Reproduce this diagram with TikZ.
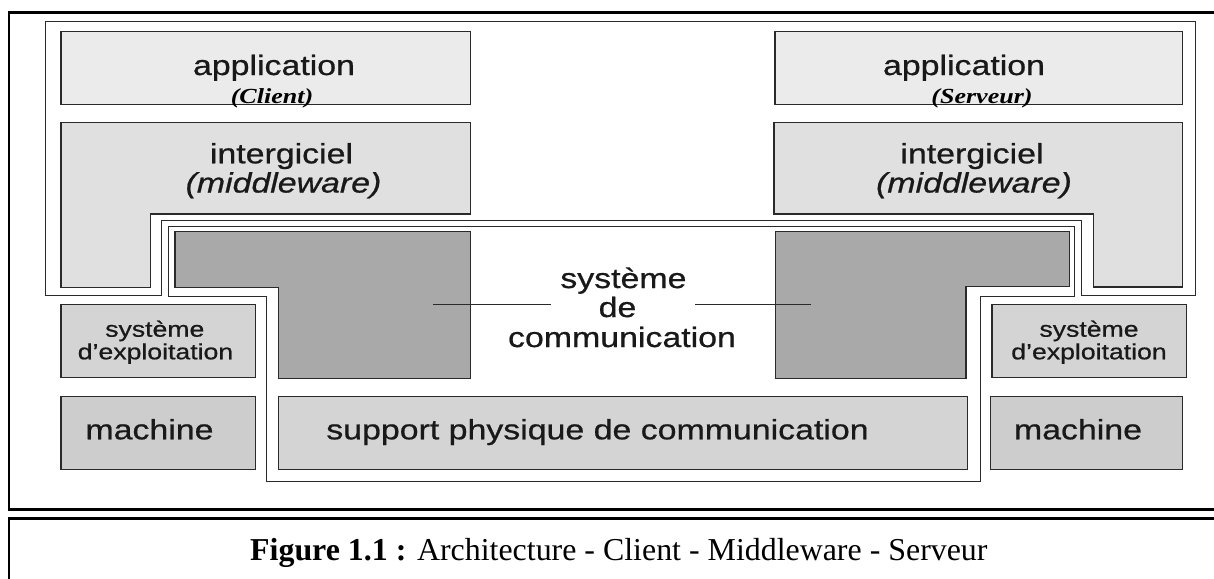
\documentclass[tikz,border=0pt]{standalone}
\usepackage{fontspec}
\setmainfont{Liberation Serif}
\newfontfamily\diagsans{Liberation Sans}[FakeStretch=1.21,FakeBold=0.7]
\newfontfamily\diagserif{Liberation Serif}[FakeStretch=1.21]
\definecolor{appfill}{HTML}{EBEBEB}
\definecolor{mwfill}{HTML}{E0E0E0}
\definecolor{commfill}{HTML}{A9A9A9}
\definecolor{osfill}{HTML}{D4D4D4}
\definecolor{machfill}{HTML}{CDCDCD}
\definecolor{supfill}{HTML}{D4D4D4}
\definecolor{edge}{HTML}{2A2A2A}
\begin{document}
\begin{tikzpicture}[x=1pt,y=-1pt,
  frame/.style={line width=2.6pt,draw=black},
  outline/.style={line width=1pt,draw=edge},
  box/.style={draw=edge,line width=1.2pt,inner sep=0pt,outer sep=0pt},
  lbl/.style={inner sep=0pt,anchor=base,text=black!90,
    font=\diagsans\fontsize{28}{30}\selectfont},
  lblit/.style={lbl,font=\diagsans\itshape\fontsize{28}{30}\selectfont},
  small/.style={lbl,font=\diagsans\fontsize{22}{24}\selectfont},
  role/.style={lbl,text=black,font=\diagserif\bfseries\itshape\fontsize{21.5}{23}\selectfont},
  tie/.style={line width=0.9pt,draw=edge}]

\useasboundingbox (0,0) rectangle (1214,578);
\clip (0,0) rectangle (1214,578);
\fill[white] (0,0) rectangle (1214,578);

% page frames: figure area and caption area
\draw[frame] (1230,12.5) -- (9,12.5) -- (9,509.5) -- (1230,509.5);
\draw[frame] (1230,518.5) -- (9,518.5) -- (9,600);

% outline of the application / middleware level
\draw[outline] (45,22) -- (1195.7,22) -- (1195.7,295.3) -- (1081,295.3)
  -- (1081,220.7) -- (161.5,220.7) -- (161.5,295.5) -- (45,295.5) -- cycle;

% outline of the communication system
\draw[outline] (168,226.7) -- (1074.5,226.7) -- (1074.5,296) -- (980.5,296)
  -- (980.5,481.7) -- (266.7,481.7) -- (266.7,296.5) -- (168,296.5) -- cycle;

% application boxes
\node[box,fill=appfill,minimum width=409.7pt,minimum height=73pt] (appC) at (265.85,68.2) {};
\node[box,fill=appfill,minimum width=407.7pt,minimum height=73pt] (appS) at (978.85,68.2) {};

% middleware, L-shaped blocks
\draw[box,fill=mwfill] (61,122.7) -- (470.7,122.7) -- (470.7,214) -- (150.5,214)
  -- (150.5,287.5) -- (61,287.5) -- cycle;
\draw[box,fill=mwfill] (774,122.7) -- (1182.7,122.7) -- (1182.7,287) -- (1093.3,287)
  -- (1093.3,214) -- (774,214) -- cycle;

% communication system, L-shaped blocks
\draw[box,fill=commfill] (175,231.7) -- (470.5,231.7) -- (470.5,378.3) -- (278.5,378.3)
  -- (278.5,287.3) -- (175,287.3) -- cycle;
\draw[box,fill=commfill] (775.5,231.7) -- (1069.3,231.7) -- (1069.3,286.7) -- (966,286.7)
  -- (966,378.3) -- (775.5,378.3) -- cycle;

% operating systems, machines and physical medium
\node[box,fill=osfill,minimum width=194.7pt,minimum height=73pt] (osC) at (158.35,341.2) {};
\node[box,fill=machfill,minimum width=194.7pt,minimum height=72.6pt] (machC) at (158.35,433) {};
\node[box,fill=supfill,minimum width=689.4pt,minimum height=72.6pt] (sup) at (623,433) {};
\node[box,fill=osfill,minimum width=194.7pt,minimum height=73pt] (osS) at (1089.35,341.2) {};
\node[box,fill=machfill,minimum width=192.4pt,minimum height=72.6pt] (machS) at (1086.5,433) {};

% labels
\node[lbl] (tAppC) at (274,75) {application};
\node[role] (tCli) at (272,103.3) {(Client)};
\node[lbl] (tMwC) at (281.5,163.3) {intergiciel};
\node[lblit] (tMwCi) at (283.5,192.5) {(middleware)};

\node[lbl] (tAppS) at (964,75) {application};
\node[role] (tSrv) at (982,103.3) {(Serveur)};
\node[lbl] (tMwS) at (972,163.3) {intergiciel};
\node[lblit] (tMwSi) at (974,192.5) {(middleware)};

\node[lbl] (tCom1) at (623.4,288) {système};
\node[lbl] (tCom2) at (617.5,317) {de};
\node[lbl] (tCom3) at (622,347) {communication};

\node[small] (tOsC1) at (154.8,336.7) {système};
\node[small] (tOsC2) at (155.5,359.3) {d’exploitation};
\node[small] (tOsS1) at (1089,336.7) {système};
\node[small] (tOsS2) at (1089,359.3) {d’exploitation};

\node[lbl] (tMachC) at (149.5,439.3) {machine};
\node[lbl] (tSup) at (597.5,439.3) {support physique de communication};
\node[lbl] (tMachS) at (1078,439.3) {machine};

% ties from the communication label into both blocks
\coordinate (tieL1) at (433,304.5);
\coordinate (tieL2) at (550.7,304.5);
\coordinate (tieR1) at (695,304.5);
\coordinate (tieR2) at (810.7,304.5);
\draw[tie] (tieL1) -- (tieL2);
\draw[tie] (tieR1) -- (tieR2);

% caption
\node[inner sep=0pt,anchor=base west,font=\fontsize{31.9}{34}\selectfont] (cap) at (250,560)
  {\textbf{Figure 1.1~:} Architecture - Client - Middleware - Serveur};
\end{tikzpicture}
\end{document}
